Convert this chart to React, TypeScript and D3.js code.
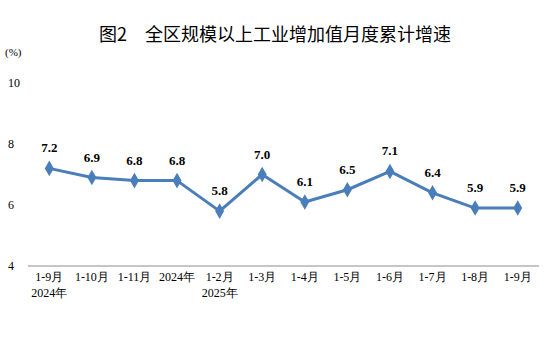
import React from "react";
import * as d3 from "d3";

const categories = ["1-9月", "1-10月", "1-11月", "2024年", "1-2月", "1-3月", "1-4月", "1-5月", "1-6月", "1-7月", "1-8月", "1-9月"];
const subLabels = ["2024年", "", "", "", "2025年", "", "", "", "", "", "", ""];
const growth = [7.2, 6.9, 6.8, 6.8, 5.8, 7.0, 6.1, 6.5, 7.1, 6.4, 5.9, 5.9];
const yTicks = [4, 6, 8, 10];

const W = 554;
const H = 354;
const serif = "'Liberation Serif', 'Times New Roman', serif";

export default function App() {
  const x = d3.scaleBand<number>().domain(d3.range(categories.length)).range([28, 539]);
  const y = d3.scaleLinear().domain([4, 10]).range([266, 83]);
  const cx = (i: number) => (x(i) ?? 0) + x.bandwidth() / 2;

  const line = d3
    .line<number>()
    .x((_, i) => cx(i))
    .y((d) => y(d));

  const diamond = d3.symbol().type(d3.symbolDiamond).size(70)();

  return (
    <svg width={W} height={H} style={{ position: "absolute", left: 0, top: 0, background: "#fff" }}>
      <text x={275} y={41} textAnchor="middle" fontFamily="'Noto Sans CJK SC', sans-serif" fontSize={18} fill="#000">
        图2　全区规模以上工业增加值月度累计增速
      </text>
      <text x={5} y={56} fontFamily={serif} fontSize={11} fill="#000">(%)</text>

      {yTicks.map((t) => (
        <text key={t} x={8} y={y(t) + 4} fontFamily={serif} fontSize={12} fill="#000">
          {t}
        </text>
      ))}

      <line x1={28} x2={539} y1={y(4)} y2={y(4)} stroke="#8c8c8c" strokeWidth={1} />

      {categories.map((c, i) => (
        <g key={i} fontFamily={serif} fontSize={12} fill="#000" textAnchor="middle">
          <text x={cx(i)} y={281}>{c}</text>
          {subLabels[i] && <text x={cx(i)} y={297}>{subLabels[i]}</text>}
        </g>
      ))}

      <path d={line(growth) ?? ""} fill="none" stroke="#4a7ebb" strokeWidth={3} strokeLinejoin="round" />
      {growth.map((v, i) => (
        <path key={i} d={diamond ?? ""} transform={`translate(${cx(i)},${y(v)})`} fill="#4a7ebb" />
      ))}
      {growth.map((v, i) => (
        <text key={i} x={cx(i)} y={y(v) - 16} textAnchor="middle" fontFamily={serif} fontSize={13} fontWeight="bold" fill="#000">
          {v.toFixed(1)}
        </text>
      ))}
    </svg>
  );
}
